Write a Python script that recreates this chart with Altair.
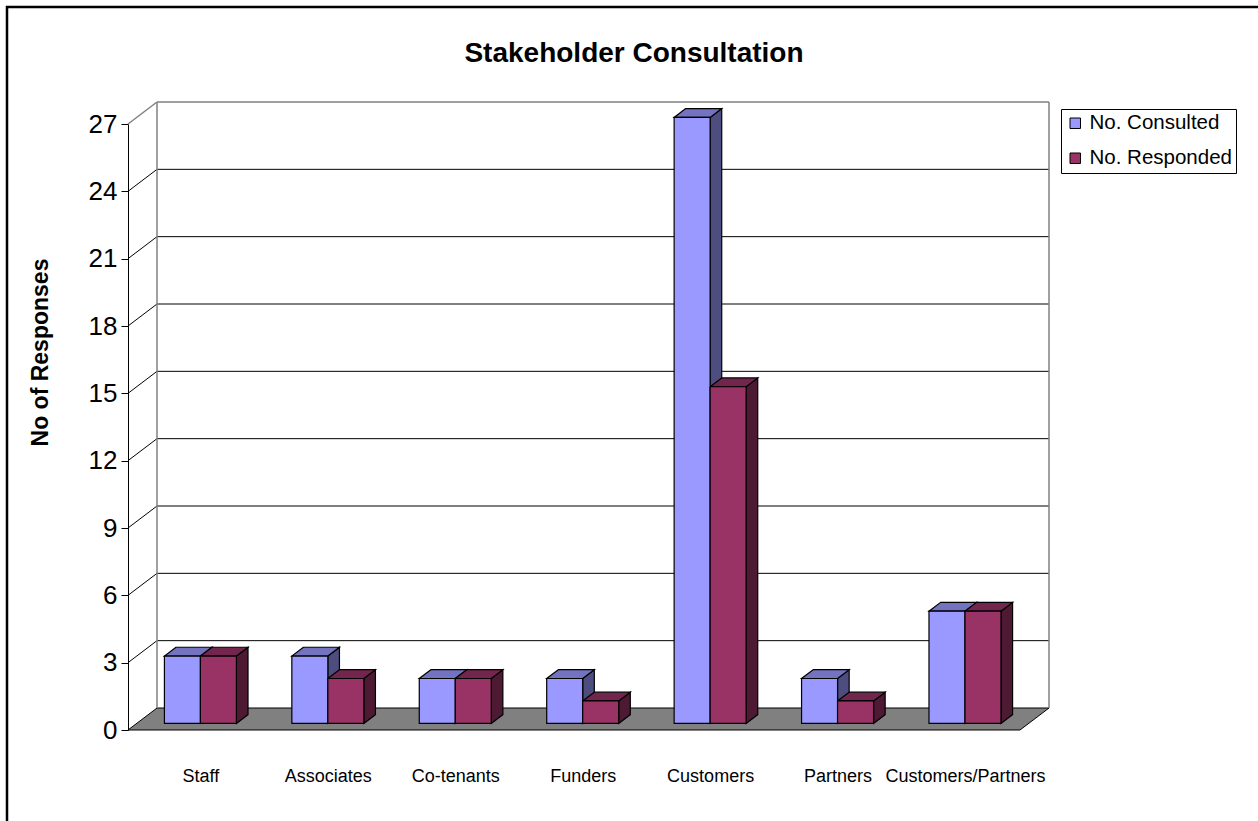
import json
import altair as alt
import pandas as pd

# ---------------- data ----------------
categories = ["Staff", "Associates", "Co-tenants", "Funders", "Customers", "Partners", "Customers/Partners"]
consulted = [3, 3, 2, 2, 27, 2, 5]
responded = [3, 2, 2, 1, 15, 1, 5]
series_names = ["No. Consulted", "No. Responded"]
y_ticks = [0, 3, 6, 9, 12, 15, 18, 21, 24, 27]

# ---------------- style ----------------
FONT = "Liberation Sans"
FRONT = {"No. Consulted": "#9999FF", "No. Responded": "#993366"}
TOP = {"No. Consulted": "#7373BF", "No. Responded": "#73264D"}
SIDE = {"No. Consulted": "#4D4D80", "No. Responded": "#4D1933"}

W, H = 892, 606
PX_X = W / len(categories)
PX_Y = H / 27
DX = 29 / PX_X      # depth offset, category units
DY = 22 / PX_Y      # depth offset, value units
F0, F1 = 0.3, 0.7   # bar front / back depth fractions
BAR = 36 / PX_X     # bar width in category units

xs = alt.Scale(domain=[0, len(categories)], nice=False, zero=False)
ys = alt.Scale(domain=[0, 27], nice=False, zero=False)

label_shift = 0.5 + F0 * DX
x_axis = alt.Axis(
    values=[i + label_shift for i in range(len(categories))],
    labelExpr=f"{json.dumps(categories)}[round(datum.value - {label_shift})]",
    domain=False, ticks=False, grid=False, labelOverlap=False,
    labelPadding=37, labelFontSize=18, labelFont=FONT, labelColor="black", title=None,
)
y_axis = alt.Axis(
    values=y_ticks, grid=False, tickSize=7, tickColor="black", domainColor="black",
    labelFontSize=26, labelFont=FONT, labelColor="black", labelPadding=4,
    title="No of Responses", titleFontSize=23, titleFont=FONT, titleFontWeight="bold",
    titleColor="black", titleAngle=270, titleX=-88, titleY=228,
    titleAlign="center", titleBaseline="middle",
)


def X(f):
    return alt.X(f, type="quantitative", scale=xs, axis=x_axis, stack=False)


def Y(f):
    return alt.Y(f, type="quantitative", scale=ys, axis=y_axis, stack=False)


# ---------------- derived geometry tables ----------------
front_rows, top_rows, side_rows = [], [], []
for i, cat in enumerate(categories):
    center = i + 0.5
    for s, (name, vals) in enumerate(zip(series_names, [consulted, responded])):
        v = vals[i]
        left = center - BAR + s * BAR
        right = left + BAR
        key = f"{i}-{s}"
        front_rows.append(dict(series=name, category=cat, value=v,
                               x=left + F0 * DX, x2=right + F0 * DX, y=F0 * DY, y2=v + F0 * DY))
        for f in (F0, F1):
            top_rows.append(dict(face=key, x=left + f * DX, x2=right + f * DX, y=v + f * DY, fill=TOP[name]))
            side_rows.append(dict(face=key, x=right + f * DX, y=f * DY, y2=v + f * DY, fill=SIDE[name]))

front_df = pd.DataFrame(front_rows)
top_df = pd.DataFrame(top_rows)
side_df = pd.DataFrame(side_rows)

n = len(categories)
floor_df = pd.DataFrame([dict(y=0, x=0, x2=n), dict(y=DY, x=DX, x2=n + DX)])
grid_df = pd.DataFrame([dict(x=DX, x2=n + DX, y=v + DY) for v in y_ticks[1:-1]])
diag_df = pd.DataFrame([dict(x=0, x2=DX, y=v, y2=v + DY) for v in y_ticks[1:-1]])
wall_v_df = pd.DataFrame([dict(x=DX, y=DY, y2=27 + DY), dict(x=n + DX, y=DY, y2=27 + DY)])
wall_top_df = pd.DataFrame([dict(x=DX, x2=n + DX, y=27 + DY)])
wall_diag_df = pd.DataFrame([dict(x=0, x2=DX, y=27, y2=27 + DY)])

# ---------------- layers ----------------
border = alt.Chart(pd.DataFrame([{"a": 1}])).mark_rect(
    fillOpacity=0, stroke="black", strokeWidth=2.5
).encode(x=alt.value(-121), x2=alt.value(1200), y=alt.value(-117), y2=alt.value(760))

grid = alt.Chart(grid_df).mark_rule(color="black", strokeWidth=1).encode(
    x=X("x"), x2="x2", y=Y("y"))
diag = alt.Chart(diag_df).mark_rule(color="black", strokeWidth=1).encode(
    x=X("x"), x2="x2", y=Y("y"), y2="y2")
wall_v = alt.Chart(wall_v_df).mark_rule(color="#808080", strokeWidth=1.5).encode(
    x=X("x"), y=Y("y"), y2="y2")
wall_top = alt.Chart(wall_top_df).mark_rule(color="#808080", strokeWidth=1.5).encode(
    x=X("x"), x2="x2", y=Y("y"))
wall_diag = alt.Chart(wall_diag_df).mark_rule(color="#808080", strokeWidth=1.5).encode(
    x=X("x"), x2="x2", y=Y("y"), y2="y2")

floor = alt.Chart(floor_df).mark_area(
    orient="horizontal", fill="#808080", stroke="black", strokeWidth=1
).encode(y=Y("y"), x=X("x"), x2="x2")

sides = alt.Chart(side_df).mark_area(
    orient="vertical", stroke="black", strokeWidth=1.2
).encode(x=X("x"), y=Y("y"), y2="y2", detail="face:N",
         fill=alt.Fill("fill:N", scale=None))

tops = alt.Chart(top_df).mark_area(
    orient="horizontal", stroke="black", strokeWidth=1.2
).encode(y=Y("y"), x=X("x"), x2="x2", detail="face:N",
         fill=alt.Fill("fill:N", scale=None))

fronts = alt.Chart(front_df).mark_rect(stroke="black", strokeWidth=1.2).encode(
    x=X("x"), x2="x2", y=Y("y"), y2="y2",
    color=alt.Color(
        "series:N",
        scale=alt.Scale(domain=series_names, range=[FRONT[s] for s in series_names]),
        legend=alt.Legend(
            title=None, orient="none", legendX=933, legendY=-15,
            symbolType="square", symbolSize=110, symbolStrokeColor="black", symbolStrokeWidth=1,
            labelFontSize=20.5, labelFont=FONT, labelColor="black",
            strokeColor="black", fillColor="white", padding=4, rowPadding=14,
        ),
    ),
)

chart = alt.layer(
    border, floor, grid, diag, wall_v, wall_top, wall_diag, sides, tops, fronts
).properties(
    width=W, height=H,
    autosize=alt.AutoSizeParams(type="none"),
    padding={"left": 128, "top": 124, "right": 1258 - 128 - W, "bottom": 821 - 124 - H},
    title=alt.TitleParams(
        "Stakeholder Consultation", fontSize=28, font=FONT, fontWeight="bold",
        color="black", anchor="middle", dx=60, offset=-62,
    ),
    background="white",
).configure_view(strokeWidth=0)

chart.save("out.html", embed_options={"renderer": "svg", "actions": False})
